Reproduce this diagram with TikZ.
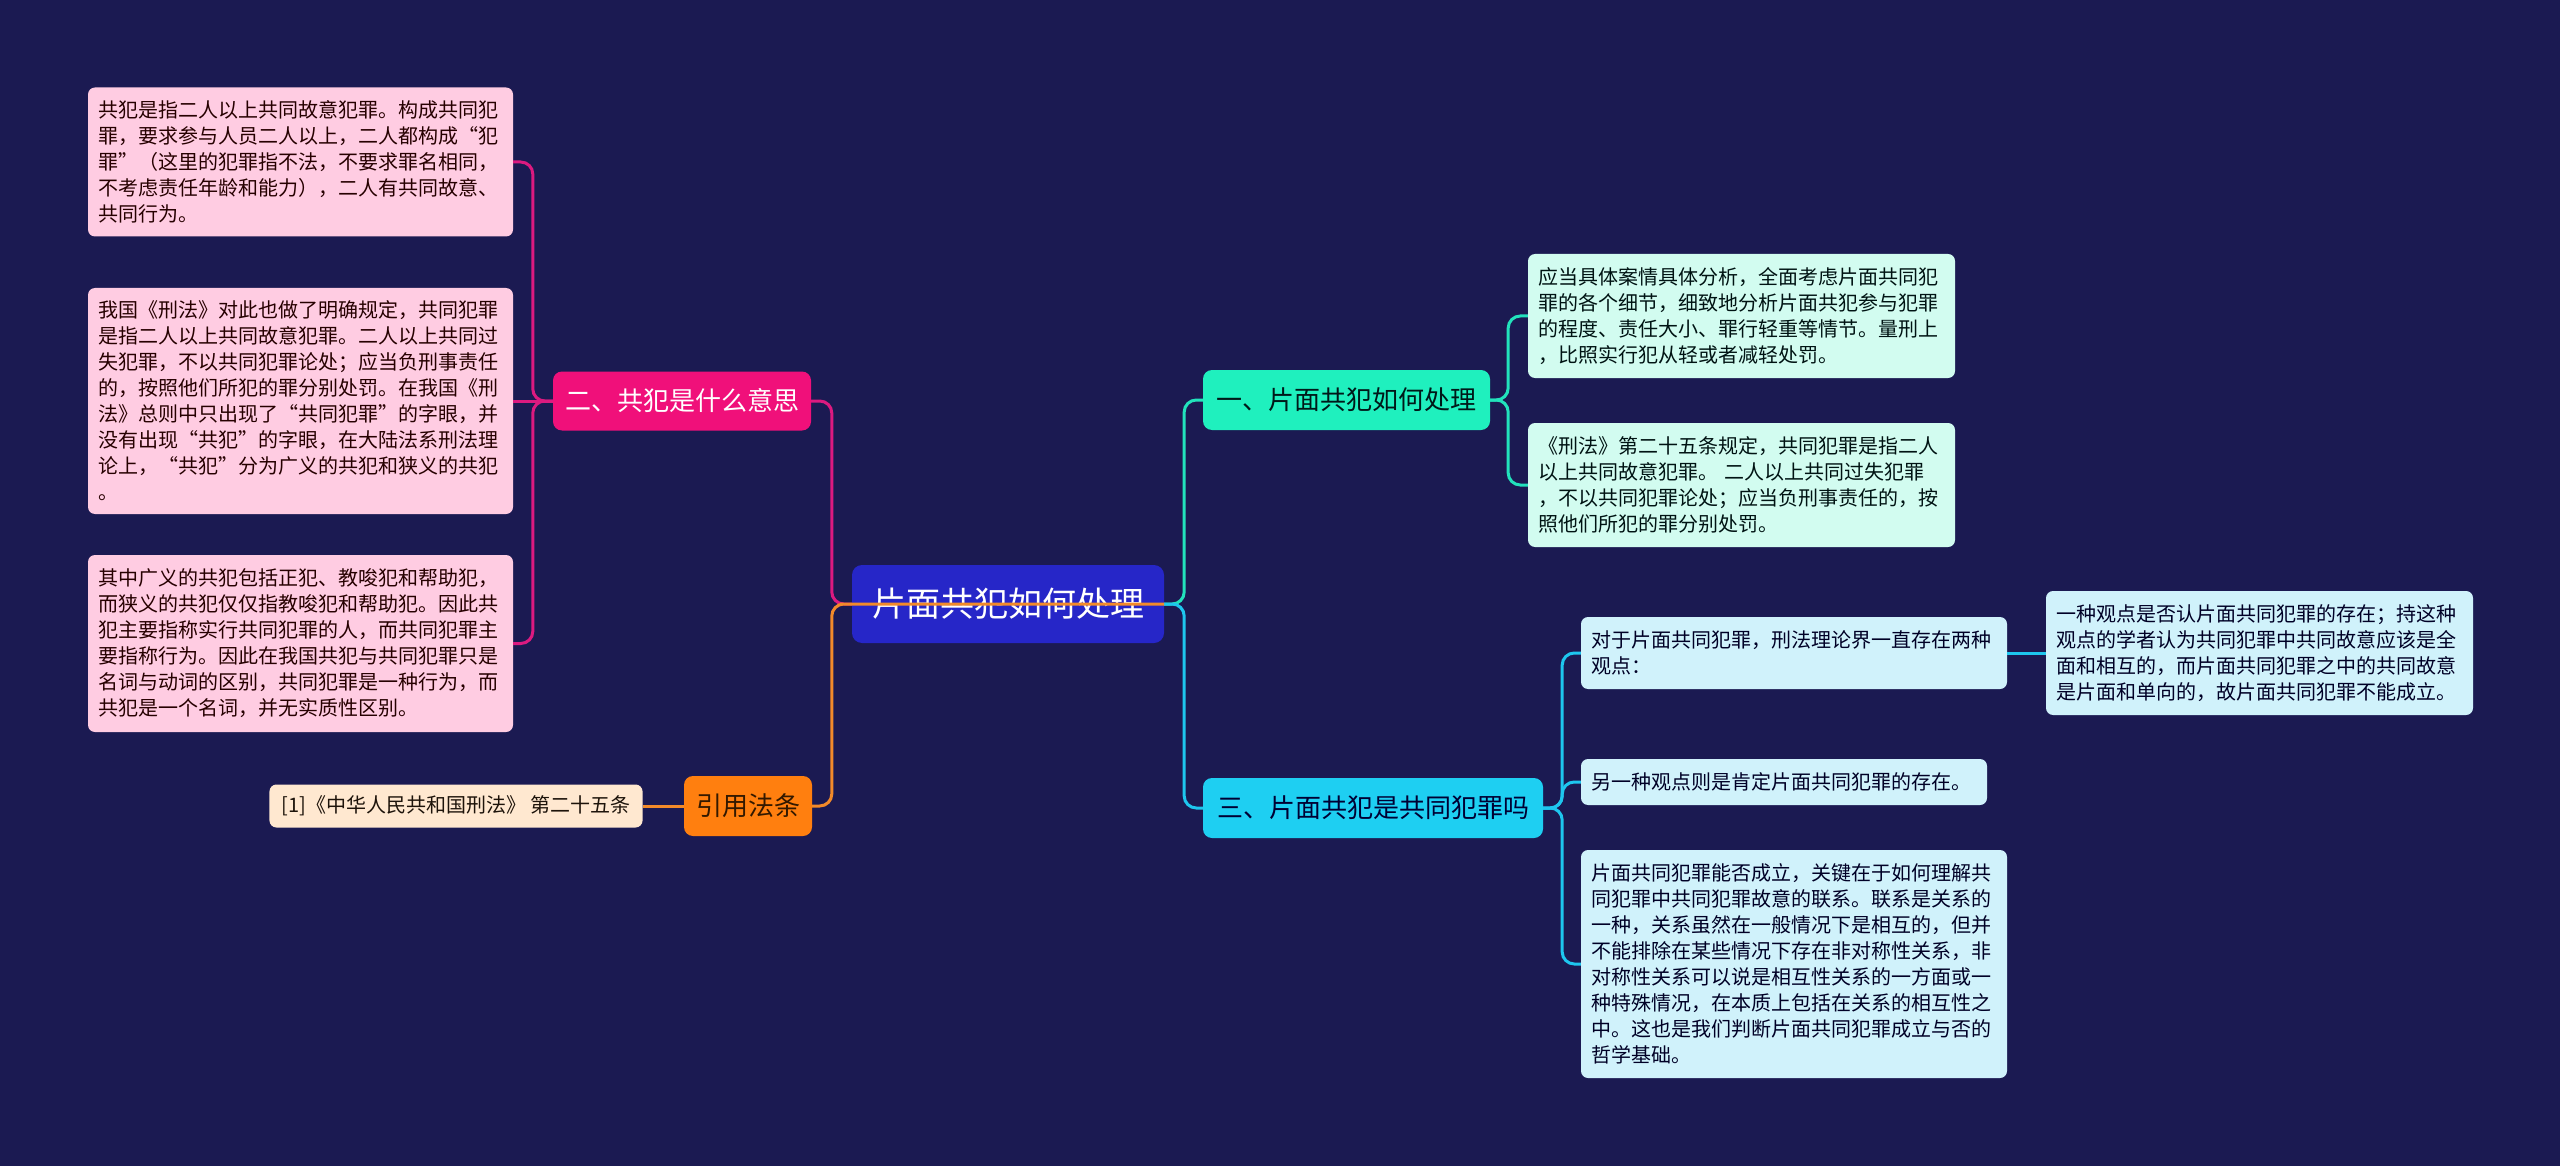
\documentclass[tikz,border=0pt]{standalone}
\usepackage{fontspec}
\setmainfont{Noto Sans CJK SC}
\usepackage{xcolor}
\usepackage{tikz}

% warna latar dan cabang
\definecolor{bgnavy}{HTML}{1B1A52}
\definecolor{rootblue}{HTML}{2626C8}
\definecolor{mintbr}{HTML}{1FF0BE}
\definecolor{cyanbr}{HTML}{1ECFF2}
\definecolor{pinkbr}{HTML}{F0107A}
\definecolor{orangebr}{HTML}{FF7F0F}
\definecolor{pinkleaf}{HTML}{FFCCE2}
\definecolor{mintleaf}{HTML}{D2FCF0}
\definecolor{cyanleaf}{HTML}{D0F2FB}
\definecolor{peachleaf}{HTML}{FFE8D0}
\definecolor{pinkline}{HTML}{DC1A80}
\definecolor{orangeline}{HTML}{F28A2A}
\definecolor{mintline}{HTML}{22E2BC}
\definecolor{cyanline}{HTML}{1EC6EE}

\tikzset{
    leaf/.style={rectangle, rounded corners=7pt, align=left, inner xsep=10pt, inner ysep=2pt,
        font=\fontsize{20}{26}\selectfont},
    branch/.style={rectangle, rounded corners=9pt, inner xsep=12pt, inner ysep=2pt,
        font=\fontsize{26}{30}\selectfont},
    link/.style={line width=3pt, rounded corners=12pt},
}

\begin{document}
\begin{tikzpicture}[x=1pt, y=-1pt]
    % --- LAYER 1: LATAR ---
    \fill[bgnavy] (0,0) rectangle (2560,1166);

    % --- LAYER 2: NODE AKAR ---
    \node[rectangle, rounded corners=10pt, fill=rootblue, text=white, minimum width=312pt, minimum height=78pt,
        font=\fontsize{34}{40}\selectfont] (root) at (1008,604) {片面共犯如何处理};

    % --- LAYER 3: CABANG UTAMA ---
    \node[branch, fill=mintbr, text=black!80!teal, minimum width=287pt, minimum height=60pt] (br1) at (1346.5,400) {一、片面共犯如何处理};
    \node[branch, fill=pinkbr, text=white, minimum width=258pt, minimum height=59pt] (br2) at (682,401) {二、共犯是什么意思};
    \node[branch, fill=cyanbr, text=black!80!blue, minimum width=340pt, minimum height=60pt] (br3) at (1373,808) {三、片面共犯是共同犯罪吗};
    \node[branch, fill=orangebr, text=black!80!orange, minimum width=128pt, minimum height=60pt] (br4) at (748,806) {引用法条};

    % --- LAYER 4: DAUN KIRI ---
    \node[leaf, fill=pinkleaf, text=black!85!red, text width=405pt, minimum height=149pt] (l1) at (300.5,162) {共犯是指二人以上共同故意犯罪。构成共同犯\\罪，要求参与人员二人以上，二人都构成“犯\\罪”（这里的犯罪指不法，不要求罪名相同，\\不考虑责任年龄和能力），二人有共同故意、\\共同行为。};
    \node[leaf, fill=pinkleaf, text=black!85!red, text width=405pt, minimum height=226pt] (l2) at (300.5,401) {我国《刑法》对此也做了明确规定，共同犯罪\\是指二人以上共同故意犯罪。二人以上共同过\\失犯罪，不以共同犯罪论处；应当负刑事责任\\的，按照他们所犯的罪分别处罚。在我国《刑\\法》总则中只出现了“共同犯罪”的字眼，并\\没有出现“共犯”的字眼，在大陆法系刑法理\\论上，“共犯”分为广义的共犯和狭义的共犯\\。};
    \node[leaf, fill=pinkleaf, text=black!85!red, text width=405pt, minimum height=177pt] (l3) at (300.5,643.5) {其中广义的共犯包括正犯、教唆犯和帮助犯，\\而狭义的共犯仅仅指教唆犯和帮助犯。因此共\\犯主要指称实行共同犯罪的人，而共同犯罪主\\要指称行为。因此在我国共犯与共同犯罪只是\\名词与动词的区别，共同犯罪是一种行为，而\\共犯是一个名词，并无实质性区别。};
    \node[leaf, fill=peachleaf, text=black!85!brown, inner xsep=12pt, minimum height=43pt] (ref) at (456,806) {[1]《中华人民共和国刑法》 第二十五条};

    % --- LAYER 5: DAUN KANAN ---
    \node[leaf, fill=mintleaf, text=black!85!teal, text width=407pt, minimum height=124pt] (r1a) at (1741.5,316) {应当具体案情具体分析，全面考虑片面共同犯\\罪的各个细节，细致地分析片面共犯参与犯罪\\的程度、责任大小、罪行轻重等情节。量刑上\\，比照实行犯从轻或者减轻处罚。};
    \node[leaf, fill=mintleaf, text=black!85!teal, text width=407pt, minimum height=124pt] (r1b) at (1741.5,485) {《刑法》第二十五条规定，共同犯罪是指二人\\以上共同故意犯罪。 二人以上共同过失犯罪\\，不以共同犯罪论处；应当负刑事责任的，按\\照他们所犯的罪分别处罚。};
    \node[leaf, fill=cyanleaf, text=black!85!blue, text width=406pt, minimum height=72pt] (r3a) at (1794,653) {对于片面共同犯罪，刑法理论界一直存在两种\\观点：};
    \node[leaf, fill=cyanleaf, text=black!85!blue, text width=386pt, minimum height=46pt] (r3b) at (1784,782) {另一种观点则是肯定片面共同犯罪的存在。};
    \node[leaf, fill=cyanleaf, text=black!85!blue, text width=406pt, minimum height=228pt] (r3c) at (1794,964) {片面共同犯罪能否成立，关键在于如何理解共\\同犯罪中共同犯罪故意的联系。联系是关系的\\一种，关系虽然在一般情况下是相互的，但并\\不能排除在某些情况下存在非对称性关系，非\\对称性关系可以说是相互性关系的一方面或一\\种特殊情况，在本质上包括在关系的相互性之\\中。这也是我们判断片面共同犯罪成立与否的\\哲学基础。};
    \node[leaf, fill=cyanleaf, text=black!85!blue, text width=407pt, minimum height=124pt] (r3d) at (2259.5,653) {一种观点是否认片面共同犯罪的存在；持这种\\观点的学者认为共同犯罪中共同故意应该是全\\面和相互的，而片面共同犯罪之中的共同故意\\是片面和单向的，故片面共同犯罪不能成立。};

    % --- LAYER 6: GARIS PENGHUBUNG ---
    \draw[link, mintline] (root.east) -- ++(20,0) |- (br1.west);
    \draw[link, cyanline] (root.east) -- ++(20,0) |- (br3.west);
    \draw[link, pinkline] (root.west) -- ++(-20,0) |- (br2.east);
    \draw[link, mintline] (br1.east) -- ++(18,0) |- (r1a.west);
    \draw[link, mintline] (br1.east) -- ++(18,0) |- (r1b.west);
    \draw[link, cyanline] (br3.east) -- ++(19,0) |- (r3a.west);
    \draw[link, cyanline] (br3.east) -- ++(19,0) |- (r3b.west);
    \draw[link, cyanline] (br3.east) -- ++(19,0) |- (r3c.west);
    \draw[link, cyanline] (r3a.east) -- (r3d.west);
    \draw[link, pinkline] (br2.west) -- ++(-20,0) |- (l1.east);
    \draw[link, pinkline] (br2.west) -- (l2.east);
    \draw[link, pinkline] (br2.west) -- ++(-20,0) |- (l3.east);
    \draw[link, orangeline] (br4.west) -- (ref.east);

    % garis oranye menimpa akar
    \draw[link, orangeline] (root.east) -- (root.west) -- ++(-20,0) |- (br4.east);
\end{tikzpicture}
\end{document}
